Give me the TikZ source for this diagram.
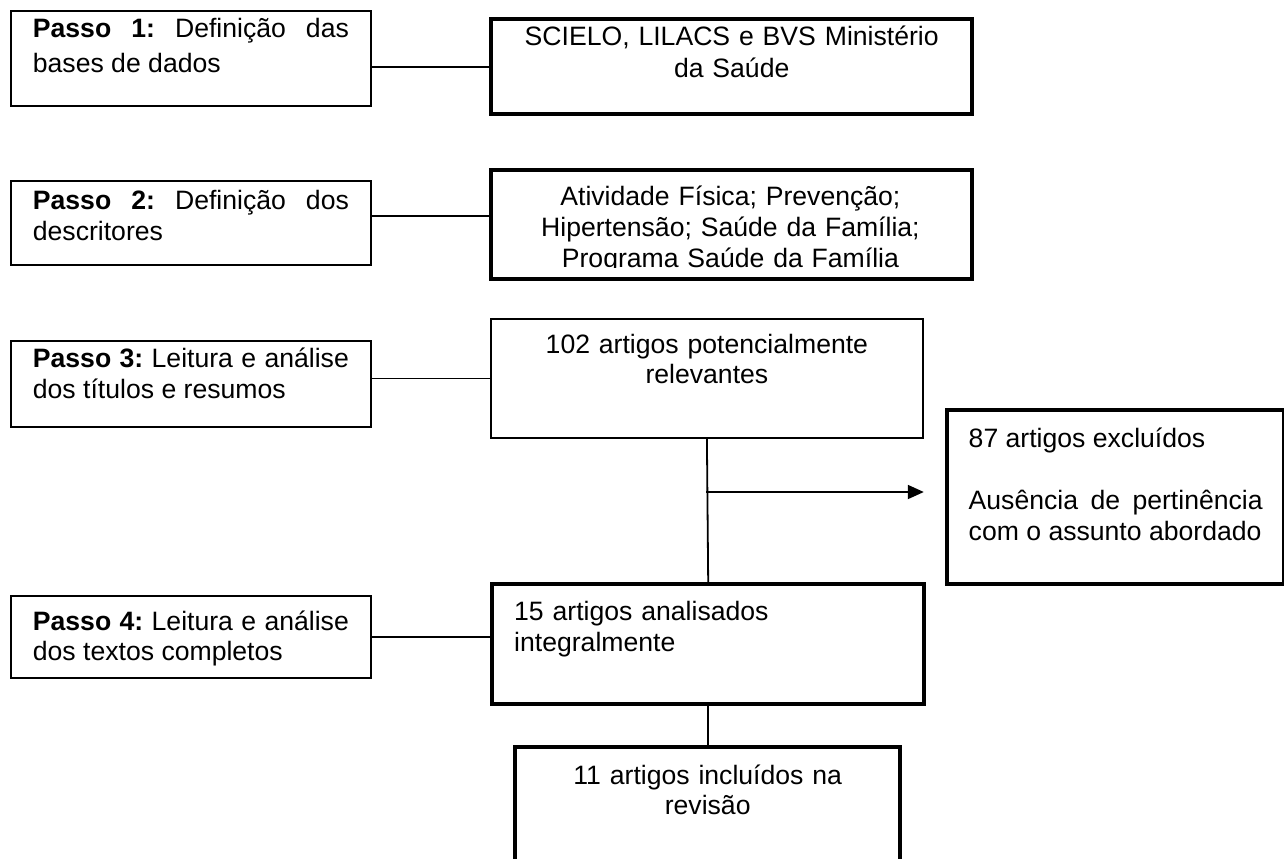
\documentclass[tikz,border=0pt]{standalone}
\usepackage{fontspec}
\setmainfont{Liberation Sans}
\usetikzlibrary{arrows.meta,positioning}
\tolerance=10000 \hbadness=10000 \frenchspacing
\tikzset{box/.style={draw,rectangle,anchor=north west,inner sep=0pt,line width=0.9pt},lh/.style={font=\fontsize{13.3pt}{#1}\selectfont},
bbox/.style={box,line width=2.2pt},passo/.style={box,inner xsep=11pt,text width=158pt,align=justify},
ln/.style={line width=0.9pt},arr/.style={ln,-{Triangle[length=8pt,width=7pt]}}}

\begin{document}
\begin{tikzpicture}[x=0.5pt,y=-0.5pt]
\clip(0,0)rectangle(1284,858);
\node[passo,lh=17.5pt,text height=13.5pt,text depth=34pt](p1)at(10,10){\textbf{Passo 1:} Definição das\linebreak bases de dados};
\node[passo,lh=15.5pt,text height=14.5pt,text depth=27.5pt](p2)at(10,180){\textbf{Passo 2:} Definição dos\linebreak descritores};
\node[passo,lh=15.5pt,text height=13.5pt,text depth=29.5pt](p3)at(10,340){\textbf{Passo 3:} Leitura e análise\linebreak dos títulos e resumos};
\node[passo,lh=15pt,text height=17.5pt,text depth=23.5pt](p4)at(10,595){\textbf{Passo 4:} Leitura e análise\linebreak dos textos completos};
\node[bbox,lh=16pt,inner xsep=10.25pt,text width=220pt,align=center,text height=13pt,text depth=34.5pt](s1)at(489,17){SCIELO, LILACS e BVS Ministério\\da Saúde};
\begin{scope}
\clip(489,168)rectangle(970,267);
\node[box,draw=none,lh=15.5pt,inner xsep=10.25pt,text width=220pt,align=center,text height=18.5pt,text depth=36pt](s2t)at(489,168){Atividade Física; Prevenção;\\Hipertensão; Saúde da Família;\\Programa Saúde da Família};
\end{scope}
\node[bbox,minimum width=240.5pt,minimum height=54.5pt](s2)at(489,168){};
\node[box,lh=15pt,inner xsep=8pt,text width=200pt,align=center,text height=17.5pt,text depth=42pt](r102)at(490,318){102 artigos potencialmente\\relevantes};
\node[bbox,lh=15.5pt,inner xsep=10.75pt,text width=147pt,align=justify,text height=18.5pt,text depth=68.5pt](e87)at(945,408){87 artigos excluídos\\[15.5pt]Ausência de pertinência\linebreak com o assunto abordado};
\node[bbox,lh=15.5pt,inner xsep=11pt,text width=194pt,align=left,text height=18pt,text depth=42pt](r15)at(490,582){15 artigos analisados\\integralmente};
\node[bbox,lh=15pt,inner xsep=6.25pt,text width=180pt,align=center,text height=18.5pt,text depth=42pt](r11)at(513,745){11 artigos incluídos na\\revisão};
% ligações
\draw[ln](s1.west)--(s1.west-|p1.east);
\coordinate(p2o)at([yshift=3.5pt]p2.east);
\draw[ln](p2o)--(p2o-|s2.west)--++(2pt,0);
\draw[ln](r102.west)--(r102.west-|p3.east);
\draw[ln](p4.east)--(p4.east-|r15.west);
\draw[ln](r102.south)--(r15.north);
\coordinate(split)at(706,492);
\draw[arr](split)--(split-|r102.east);
\draw[ln](r15.south)--(r15.south|-r11.north);
\end{tikzpicture}
\end{document}
